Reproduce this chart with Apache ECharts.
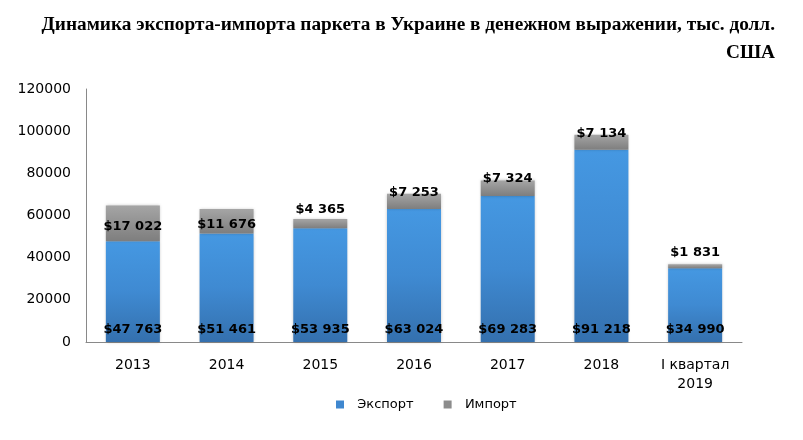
<!DOCTYPE html>
<html>
<head>
<meta charset="utf-8">
<script src="https://cdn.jsdelivr.net/npm/echarts@6/dist/echarts.min.js"></script>
<style>
  html, body { margin: 0; padding: 0; background: #fff; }
  #main { width: 803px; height: 440px; }
</style>
</head>
<body>
<div id="main"></div>
<script>
// данные с картинки
var years = ['2013', '2014', '2015', '2016', '2017', '2018', 'I квартал\n2019'];
var exportVals = [47763, 51461, 53935, 63024, 69283, 91218, 34990];
var importVals = [17022, 11676, 4365, 7253, 7324, 7134, 1831];
var yTicks = [0, 20000, 40000, 60000, 80000, 100000, 120000];

function money(v) {
    return '$' + String(v).replace(/\B(?=(\d{3})+(?!\d))/g, ' ');
}

var labelFont = {
    fontFamily: 'DejaVu Sans',
    fontSize: 13,
    fontWeight: 'bold',
    color: '#000'
};

var titleFont = {
    fontFamily: 'Liberation Serif',
    fontSize: 19.3,
    fontWeight: 'bold',
    color: '#000'
};

// подписи импорта: внутри, на краю или над столбиком
var importData = importVals.map(function (v) {
    var pos = 'top', off = [0, 0];
    if (v > 10000) { pos = 'inside'; off = [0, 3]; }
    else if (v > 5000) { pos = 'top'; off = [0, 10]; }
    else if (v > 3000) { pos = 'top'; off = [0, 2]; }
    return { value: v, label: { position: pos, offset: off } };
});

var myChart = echarts.init(document.getElementById('main'));

var option = {
    animation: false,
    backgroundColor: '#fff',
    title: [{
        text: 'Динамика экспорта-импорта паркета в Украине в денежном выражении, тыс. долл.',
        right: 23,
        top: 11,
        textStyle: titleFont
    }, {
        text: 'США',
        right: 23,
        top: 39,
        textStyle: titleFont
    }],
    legend: {
        bottom: 24,
        left: 331,
        itemWidth: 8,
        itemHeight: 8,
        itemGap: 30,
        icon: 'rect',
        formatter: function (n) { return '  ' + n; },
        textStyle: { fontFamily: 'DejaVu Sans', fontSize: 13, color: '#000' },
        data: [
            { name: 'Экспорт', itemStyle: { color: '#3F87CF' } },
            { name: 'Импорт', itemStyle: { color: '#8C8C8C' } }
        ]
    },
    grid: { left: 86, right: 61, top: 89, bottom: 98, containLabel: false },
    xAxis: {
        type: 'category',
        data: years,
        axisLine: { lineStyle: { color: '#898989', width: 1 } },
        axisTick: { show: false },
        axisLabel: {
            fontFamily: 'DejaVu Sans',
            fontSize: 14,
            color: '#000',
            margin: 14,
            lineHeight: 19
        }
    },
    yAxis: {
        type: 'value',
        min: yTicks[0],
        max: yTicks[yTicks.length - 1],
        interval: yTicks[1] - yTicks[0],
        splitLine: { show: false },
        axisLine: { show: true, lineStyle: { color: '#898989', width: 1 } },
        axisTick: { show: false },
        axisLabel: {
            fontFamily: 'DejaVu Sans',
            fontSize: 14,
            color: '#000',
            margin: 15,
            formatter: function (v) { return String(v); }
        }
    },
    series: [{
        name: 'Экспорт',
        type: 'bar',
        stack: 'all',
        barWidth: 54,
        data: exportVals,
        itemStyle: {
            color: new echarts.graphic.LinearGradient(0, 0, 0, 1, [
                { offset: 0, color: '#4598E2' },
                { offset: 0.5, color: '#3F8AD2' },
                { offset: 1, color: '#3470AE' }
            ]),
            shadowColor: 'rgba(0,0,0,0.25)',
            shadowBlur: 3
        },
        label: {
            show: true,
            position: 'insideBottom',
            distance: 6,
            formatter: function (p) { return money(p.value); },
            ...labelFont
        }
    }, {
        name: 'Импорт',
        type: 'bar',
        stack: 'all',
        barWidth: 54,
        data: importData,
        itemStyle: {
            color: new echarts.graphic.LinearGradient(0, 0, 0, 1, [
                { offset: 0, color: '#A5A5A5' },
                { offset: 1, color: '#7E7E7E' }
            ]),
            shadowColor: 'rgba(0,0,0,0.25)',
            shadowBlur: 3
        },
        label: {
            show: true,
            formatter: function (p) { return money(p.value); },
            ...labelFont
        }
    }]
};

myChart.setOption(option);
</script>
</body>
</html>
